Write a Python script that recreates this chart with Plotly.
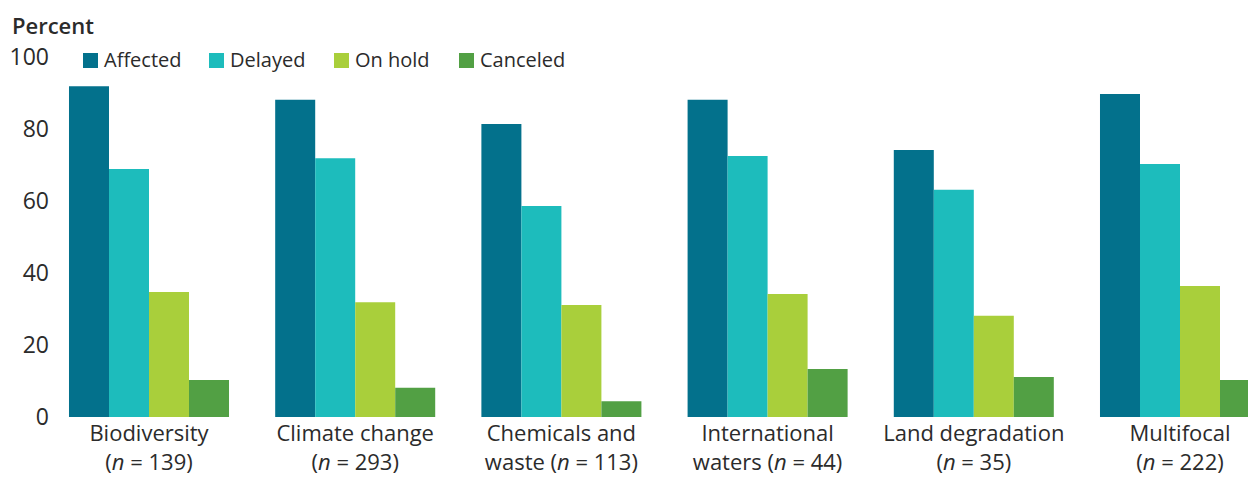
import plotly.graph_objects as go

categories = [
    "Biodiversity<br>(<i>n</i> = 139)",
    "Climate change<br>(<i>n</i> = 293)",
    "Chemicals and<br>waste (<i>n</i> = 113)",
    "International<br>waters (<i>n</i> = 44)",
    "Land degradation<br>(<i>n</i> = 35)",
    "Multifocal<br>(<i>n</i> = 222)",
]
series_names = ["Affected", "Delayed", "On hold", "Canceled"]
affected = [91.9, 88.1, 81.4, 88.1, 74.2, 89.7]
delayed = [68.9, 71.9, 58.6, 72.5, 63.1, 70.3]
on_hold = [34.7, 31.9, 31.1, 34.2, 28.1, 36.4]
canceled = [10.3, 8.1, 4.4, 13.3, 11.1, 10.3]
colors = ["#03718C", "#1DBCBC", "#A9CF3B", "#52A044"]
y_ticks = [0, 20, 40, 60, 80, 100]

FONT = "Open Sans"
TXT = "#2b2b2b"
W, H = 1248, 477
ML, MR, MT, MB = 50, 0, 57, 60
PW, PH = W - ML - MR, H - MT - MB

def px_x(px):
    return (px - ML) / PW

def px_y(py):
    return (H - MB - py) / PH

fig = go.Figure()
for name, vals, col in zip(series_names, [affected, delayed, on_hold, canceled], colors):
    fig.add_trace(go.Bar(name=name, x=categories, y=vals, marker=dict(color=col, line=dict(width=0)),
                         showlegend=False))

pitch = 206.2
x_left = -(149 - ML) / pitch
x_right = x_left + PW / pitch

shapes = []
annotations = []
legend_x = [83, 209, 334, 459]
for name, col, lx in zip(series_names, colors, legend_x):
    shapes.append(dict(type="rect", xref="paper", yref="paper",
                       x0=px_x(lx), x1=px_x(lx + 15), y0=px_y(68), y1=px_y(53),
                       fillcolor=col, line=dict(width=0)))
    annotations.append(dict(xref="paper", yref="paper", x=px_x(lx + 19), y=px_y(60),
                            xanchor="left", yanchor="middle", text=name, showarrow=False,
                            font=dict(family=FONT, size=20, color=TXT)))
annotations.append(dict(xref="paper", yref="paper", x=px_x(10), y=px_y(25),
                        xanchor="left", yanchor="middle", text="Percent", showarrow=False,
                        font=dict(family=FONT, size=22, color=TXT, weight=600)))

fig.update_layout(
    width=W, height=H,
    margin=dict(l=ML, r=MR, t=MT, b=MB, pad=0),
    barmode="group", bargap=0.224, bargroupgap=0,
    plot_bgcolor="white", paper_bgcolor="white",
    font=dict(family=FONT, size=21, color=TXT),
    xaxis=dict(range=[x_left, x_right], showgrid=False, zeroline=False, showline=False,
               automargin=False,
               ticks="", ticklabelstandoff=1, tickfont=dict(family=FONT, size=22, color=TXT)),
    yaxis=dict(range=[0, 100], tickvals=y_ticks, showgrid=False, zeroline=False, showline=False,
               automargin=False,
               ticks="", tickfont=dict(family=FONT, size=23, color=TXT)),
    shapes=shapes, annotations=annotations,
    showlegend=False,
)
fig.write_html("out.html")
